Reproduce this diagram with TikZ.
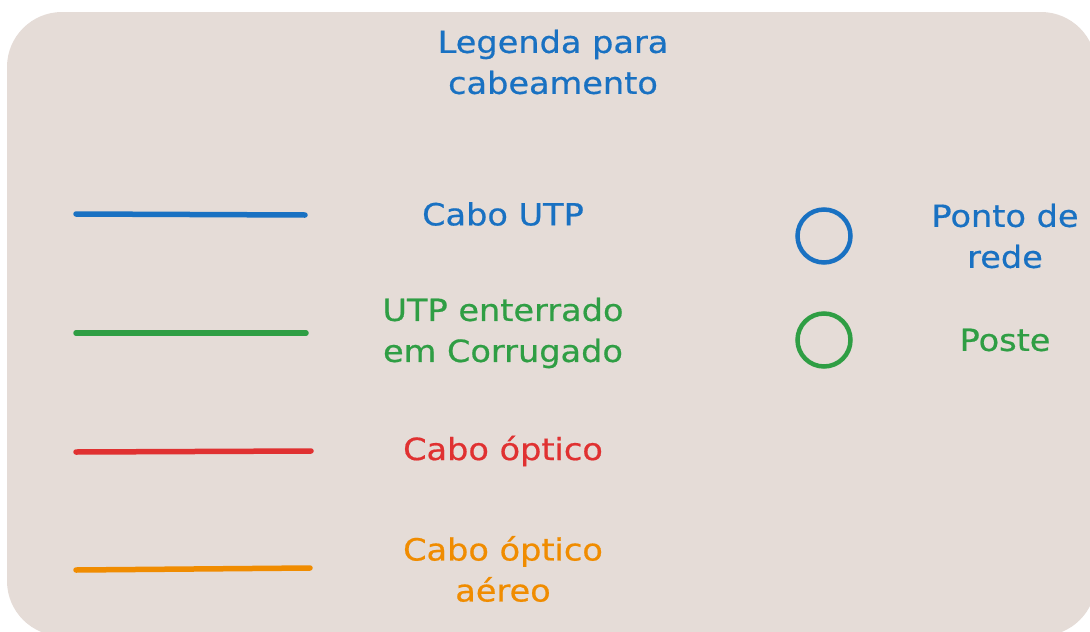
\documentclass[tikz,border=0pt]{standalone}
\usepackage{fontspec}
\setmainfont[FakeStretch=1.1,FakeBold=0.6]{DejaVu Sans}
\definecolor{bgc}{HTML}{E5DCD7}
\definecolor{cblue}{HTML}{1971C2}
\definecolor{cgreen}{HTML}{2F9E44}
\definecolor{cred}{HTML}{E03131}
\definecolor{corange}{HTML}{F08C00}
\begin{document}
\begin{tikzpicture}[x=1pt,y=-1pt,
  lbl/.style={align=center,font=\fontsize{30.5}{41}\selectfont,inner sep=0pt},
  sample/.style={line width=5.5pt,line cap=round},
  mark circle/.style={circle,draw,line width=4.5pt,minimum size=53pt,inner sep=0pt}]
\useasboundingbox (0,0) rectangle (1090,632);
\fill[bgc,rounded corners=55pt] (7,12) rectangle (1096,636);
\node[lbl,text=cblue] (title) at (553,62) {Legenda para\\cabeamento};
% legend lines
\coordinate (b1) at (76,214); \coordinate (b2) at (305,215);
\coordinate (g1) at (76,333); \coordinate (g2) at (306,333);
\coordinate (r1) at (76,452); \coordinate (r2) at (311,451);
\coordinate (o1) at (76,570); \coordinate (o2) at (310,568);
\draw[sample,cblue] (b1) -- (b2);
\draw[sample,cgreen] (g1) -- (g2);
\draw[sample,cred] (r1) -- (r2);
\draw[sample,corange] (o1) -- (o2);
\node[lbl,text=cblue] (utp) at (503,214) {Cabo UTP};
\node[lbl,text=cgreen] (enterrado) at (503,333) {UTP enterrado\\em Corrugado};
\node[lbl,text=cred] (optico) at (503,451) {Cabo óptico};
\node[lbl,text=corange] (aereo) at (503,569) {Cabo óptico\\aéreo};
% circles
\node[mark circle,cblue] (ponto) at (824,236) {};
\node[mark circle,cgreen] (poste) at (824,340) {};
\node[lbl,text=cblue] (pontolbl) at (1005,236) {Ponto de\\rede};
\node[lbl,text=cgreen] (postelbl) at (1005,340) {Poste};
\end{tikzpicture}
\end{document}
